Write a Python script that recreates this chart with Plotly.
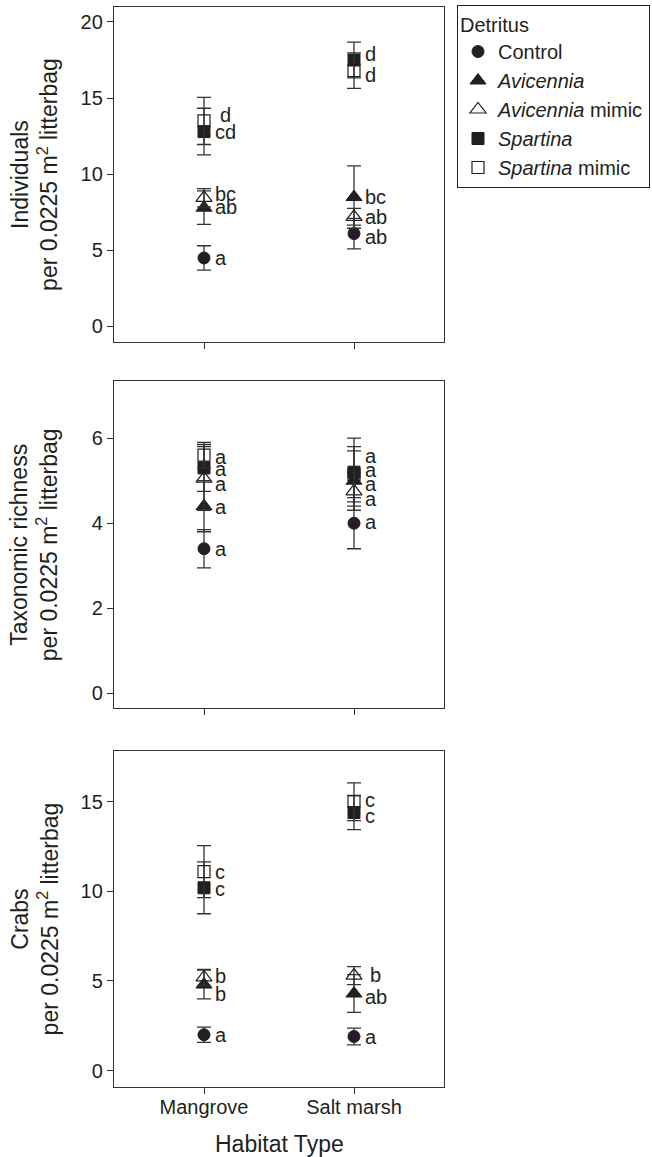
import plotly.graph_objects as go

habitats = ["Mangrove", "Salt marsh"]
series = ["Control", "Avicennia", "Avicennia mimic", "Spartina", "Spartina mimic"]
legend_names = ["Control", "<i>Avicennia</i>", "<i>Avicennia</i> mimic",
                "<i>Spartina</i>", "<i>Spartina</i> mimic"]

# Individuals per litterbag: [Mangrove, Salt marsh]
ind_mean = {"Control": [4.5, 6.1], "Avicennia": [7.8, 8.5], "Avicennia mimic": [8.45, 7.2],
            "Spartina": [12.8, 17.5], "Spartina mimic": [13.5, 16.8]}
ind_err = {"Control": [0.8, 1.0], "Avicennia": [1.1, 2.05], "Avicennia mimic": [0.6, 0.55],
           "Spartina": [1.53, 1.17], "Spartina mimic": [1.55, 1.17]}
ind_lab = {"Control": ["a", "ab"], "Avicennia": ["ab", "bc"], "Avicennia mimic": ["bc", "ab"],
           "Spartina": ["cd", "d"], "Spartina mimic": ["d", "d"]}

# Taxonomic richness
tax_mean = {"Control": [3.4, 4.0], "Avicennia": [4.4, 5.0], "Avicennia mimic": [5.05, 4.75],
            "Spartina": [5.3, 5.2], "Spartina mimic": [5.6, 5.15]}
tax_err = {"Control": [0.45, 0.6], "Avicennia": [0.6, 0.7], "Avicennia mimic": [0.75, 0.45],
           "Spartina": [0.55, 0.8], "Spartina mimic": [0.3, 0.65]}
tax_lab = {"Control": ["a", "a"], "Avicennia": ["a", "a"], "Avicennia mimic": ["a", "a"],
           "Spartina": ["a", "a"], "Spartina mimic": ["a", "a"]}

# Crabs
crab_mean = {"Control": [2.0, 1.9], "Avicennia": [4.8, 4.3], "Avicennia mimic": [5.2, 5.3],
             "Spartina": [10.2, 14.4], "Spartina mimic": [11.1, 15.0]}
crab_err = {"Control": [0.43, 0.47], "Avicennia": [0.8, 1.05], "Avicennia mimic": [0.45, 0.5],
            "Spartina": [1.45, 0.95], "Spartina mimic": [1.45, 1.05]}
crab_lab = {"Control": ["a", "a"], "Avicennia": ["b", "ab"], "Avicennia mimic": ["b", "b"],
            "Spartina": ["c", "c"], "Spartina mimic": ["c", "c"]}

y_titles = ["Individuals<br>per 0.0225 m<sup>2</sup> litterbag",
            "Taxonomic richness<br>per 0.0225 m<sup>2</sup> litterbag",
            "Crabs<br>per 0.0225 m<sup>2</sup> litterbag"]
y_ticks = [[0, 5, 10, 15, 20], [0, 2, 4, 6], [0, 5, 10, 15]]

# ---- styling (not data) ----
INK = "#231f20"
FONT = "Liberation Sans, Arial, Helvetica, sans-serif"
styles = {
    "Control": dict(symbol="circle", size=12, color=INK, line=dict(color=INK, width=1)),
    "Avicennia": dict(symbol="triangle-up", size=14, color=INK, line=dict(color=INK, width=1)),
    "Avicennia mimic": dict(symbol="triangle-up-open", size=14, color=INK, line=dict(color=INK, width=1.2)),
    "Spartina": dict(symbol="square", size=12, color=INK, line=dict(color=INK, width=1)),
    "Spartina mimic": dict(symbol="square-open", size=12, color=INK, line=dict(color=INK, width=1.2)),
}
# label nudges in pixels (dx, dy up) per panel / series / habitat
nudge = [
    {"Spartina mimic": [(5, 6), (0, -4)], "Spartina": [(0, 0), (0, 6)],
     "Avicennia mimic": [(0, 4), (0, 0)], "Avicennia": [(0, 1), (0, 0)], "Control": [(0, 0), (0, -3)]},
    {"Spartina mimic": [(0, -2), (0, 18)], "Spartina": [(0, -1), (0, 2)],
     "Avicennia mimic": [(0, -5), (0, -8)], "Avicennia": [(0, -1), (0, -3)], "Control": [(0, 0), (0, 1)]},
    {"Spartina mimic": [(0, 0), (0, 2)], "Spartina": [(0, -1), (0, -3)],
     "Avicennia mimic": [(0, 1), (5, 1)], "Avicennia": [(0, -9), (0, -3)], "Control": [(0, 0), (0, 0)]},
]

H = 1157.0
W = 652.0
x_dom = [114 / W, 444 / W]
y_doms = [[1 - 341.7 / H, 1 - 6.7 / H], [1 - 708.3 / H, 1 - 380.7 / H], [1 - 1086.7 / H, 1 - 750.7 / H]]
y_ranges = [[-1, 21], [-0.35, 7.35], [-0.9, 17.85]]

panels = [(ind_mean, ind_err, ind_lab), (tax_mean, tax_err, tax_lab), (crab_mean, crab_err, crab_lab)]

fig = go.Figure()
annotations = []
for p, (means, errs, labs) in enumerate(panels):
    xa = "x" if p == 0 else f"x{p+1}"
    ya = "y" if p == 0 else f"y{p+1}"
    for si, s in enumerate(series):
        fig.add_trace(go.Scatter(
            x=habitats, y=means[s], mode="markers", name=legend_names[si],
            legendgroup=s, showlegend=(p == 0),
            marker=styles[s],
            error_y=dict(type="data", array=errs[s], visible=True, thickness=1.3, width=7, color="#333333"),
            xaxis=xa, yaxis=ya, cliponaxis=False, hoverinfo="skip",
        ))
        for hi, h in enumerate(habitats):
            dx, dy = nudge[p][s][hi]
            annotations.append(dict(
                x=h, y=means[s][hi], xref=xa, yref=ya, text=labs[s][hi], showarrow=False,
                xanchor="left", yanchor="middle", xshift=9 + dx, yshift=dy,
                font=dict(size=20, color=INK, family=FONT)))

layout = dict(
    width=652, height=1157, margin=dict(l=0, r=0, t=0, b=0),
    paper_bgcolor="white", plot_bgcolor="white",
    font=dict(family=FONT, size=20, color=INK),
    showlegend=True,
    legend=dict(x=457 / W, y=1 - 5 / H, xanchor="left", yanchor="top",
                bordercolor=INK, borderwidth=1, bgcolor="white",
                title=dict(text="Detritus", font=dict(size=20)),
                font=dict(size=20), tracegroupgap=0),
)
for p in range(3):
    xk = "xaxis" if p == 0 else f"xaxis{p+1}"
    yk = "yaxis" if p == 0 else f"yaxis{p+1}"
    ya = "y" if p == 0 else f"y{p+1}"
    xa = "x" if p == 0 else f"x{p+1}"
    layout[xk] = dict(domain=x_dom, anchor=ya, type="category", categoryorder="array",
                      categoryarray=habitats, range=[-0.6, 1.6],
                      showline=True, mirror=True, linecolor="#333333", linewidth=1.3,
                      ticks="outside", ticklen=6, tickcolor="#333333", tickwidth=1,
                      showgrid=False, zeroline=False, showticklabels=(p == 2),
                      ticklabelstandoff=-4, tickfont=dict(size=20))
    layout[yk] = dict(domain=y_doms[p], anchor=xa, range=y_ranges[p], tickvals=y_ticks[p],
                      showline=True, mirror=True, linecolor="#333333", linewidth=1.3,
                      ticks="outside", ticklen=6, tickcolor="#333333", tickwidth=1,
                      showgrid=False, zeroline=False, tickfont=dict(size=20))
    annotations.append(dict(
        x=34.7 / W, y=(y_doms[p][0] + y_doms[p][1]) / 2, xref="paper", yref="paper",
        text=y_titles[p], textangle=-90, showarrow=False, xanchor="center", yanchor="middle",
        font=dict(size=23, color=INK, family=FONT)))

annotations.append(dict(x=279 / W, y=1 - 1144 / H, xref="paper", yref="paper", text="Habitat Type",
                        showarrow=False, xanchor="center", yanchor="middle",
                        font=dict(size=23, color=INK, family=FONT)))
layout["annotations"] = annotations
fig.update_layout(**layout)
fig.write_html("out.html", config={"displayModeBar": False},
               post_script="document.body.style.margin='0px';document.body.style.overflow='hidden';")
